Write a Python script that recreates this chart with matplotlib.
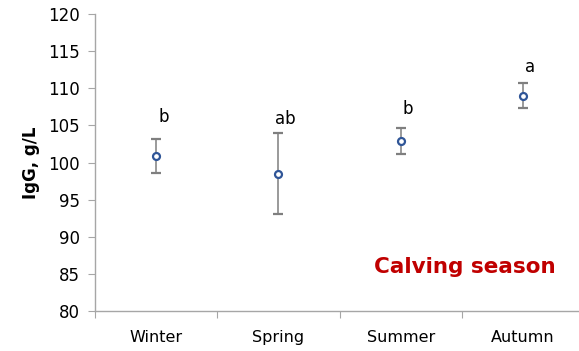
import matplotlib.pyplot as plt
import numpy as np

# ============================================================
# Data
# ============================================================
seasons = ["Winter", "Spring", "Summer", "Autumn"]
igg_mean = [100.9, 98.5, 102.9, 109.0]
igg_err = [2.3, 5.5, 1.7, 1.7]
letters = ["b", "ab", "b", "a"]
letter_y = [106.1, 105.9, 107.2, 112.9]

AXIS_GRAY = "#A6A6A6"

plt.rcParams["font.family"] = ["DejaVu Sans"]

fig = plt.figure(figsize=(5.79, 3.51), dpi=100)
ax = fig.add_axes([0.164, 0.114, 0.845, 0.846])

x = np.arange(len(seasons)) + 0.5

ax.errorbar(
    x, igg_mean, yerr=igg_err,
    fmt="o", ms=5, mfc="white", mec="#2F5597", mew=1.6,
    ecolor="#7F7F7F", elinewidth=1.1, capsize=3.5, capthick=1.1,
)

for xi, lab, ly in zip(x, letters, letter_y):
    ax.text(xi + 0.06, ly, lab, ha="center", va="center", fontsize=12, color="black")

ax.text(3.02, 85.9, "Calving season", ha="center", va="center",
        fontsize=15.5, fontweight="bold", color="#C00000")

ax.set_xlim(0, 4)
ax.set_ylim(80, 120)
ax.set_yticks(np.arange(80, 121, 5))
ax.set_xticks([0, 1, 2, 3, 4])
ax.set_xticklabels([])
ax.set_xticks(x, minor=True)
ax.set_xticklabels(seasons, minor=True)
ax.tick_params(axis="x", which="minor", length=0, pad=14, labelsize=11.5)
ax.tick_params(axis="x", which="major", length=5, color=AXIS_GRAY, direction="out")
ax.tick_params(axis="y", length=5, color=AXIS_GRAY, labelsize=12, pad=6)

ax.set_ylabel("IgG, g/L", fontsize=12, fontweight="bold", labelpad=6)

for side in ["top", "right"]:
    ax.spines[side].set_visible(False)
for side in ["left", "bottom"]:
    ax.spines[side].set_color(AXIS_GRAY)
    ax.spines[side].set_linewidth(1.0)

fig.savefig("out.png", dpi=100)
